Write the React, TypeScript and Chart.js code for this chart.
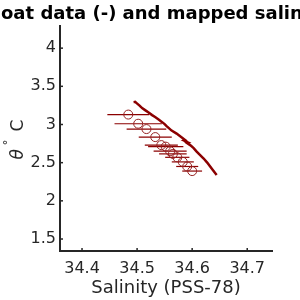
import React, { useEffect, useRef } from "react";
import { Chart, registerables } from "chart.js";
Chart.register(...registerables);

// Float profile (line)
const floatSal = [34.4936, 34.4965, 34.4991, 34.5045, 34.5091, 34.5145, 34.5209, 34.5273, 34.5327, 34.5391, 34.5455, 34.55, 34.5536, 34.5627, 34.5718, 34.58, 34.5873, 34.585, 34.5927, 34.5905, 34.5964, 34.6027, 34.6082, 34.6145, 34.6209, 34.6273, 34.6327, 34.6382, 34.6445];
const floatTheta = [3.293, 3.296, 3.28, 3.247, 3.215, 3.188, 3.156, 3.123, 3.097, 3.064, 3.031, 3.005, 2.979, 2.92, 2.881, 2.836, 2.796, 2.79, 2.763, 2.758, 2.73, 2.691, 2.645, 2.6, 2.554, 2.501, 2.449, 2.397, 2.338];

// Mapped salinity (circles) with horizontal error
const mapSal = [34.484, 34.502, 34.517, 34.533, 34.544, 34.552, 34.56, 34.565, 34.573, 34.583, 34.591, 34.6];
const mapTheta = [3.13, 3.01, 2.94, 2.835, 2.73, 2.71, 2.65, 2.615, 2.57, 2.51, 2.45, 2.39];
const mapErr = [0.038, 0.043, 0.036, 0.03, 0.03, 0.032, 0.03, 0.025, 0.022, 0.02, 0.02, 0.018];

const xTicks = [34.4, 34.5, 34.6, 34.7];
const yTicks = [1.5, 2, 2.5, 3, 3.5, 4];
const titleText = "Float data (-) and mapped salinity (o)";
const xLabel = "Salinity (PSS-78)";

const FONT = "'DejaVu Sans', sans-serif";
const AXIS = "#262626";
const RED = "#8B0000";

export default function App() {
  const ref = useRef<HTMLCanvasElement>(null);
  useEffect(() => {
    const decor = {
      id: "decor",
      beforeDatasetsDraw(chart: any) {
        const { ctx, scales } = chart;
        const xs = scales.x, ys = scales.y;
        ctx.save();
        ctx.strokeStyle = RED;
        ctx.lineWidth = 1.2;
        mapSal.forEach((s, i) => {
          const y = ys.getPixelForValue(mapTheta[i]);
          ctx.beginPath();
          ctx.moveTo(xs.getPixelForValue(s - mapErr[i]), y);
          ctx.lineTo(xs.getPixelForValue(s + mapErr[i]), y);
          ctx.stroke();
        });
        ctx.restore();
      },
      afterDraw(chart: any) {
        const { ctx, scales, chartArea } = chart;
        const xs = scales.x, ys = scales.y;
        ctx.save();
        // inward ticks
        ctx.strokeStyle = AXIS;
        ctx.lineWidth = 1.5;
        xTicks.forEach((v) => {
          const x = xs.getPixelForValue(v);
          ctx.beginPath();
          ctx.moveTo(x, chartArea.bottom);
          ctx.lineTo(x, chartArea.bottom - 3);
          ctx.stroke();
        });
        yTicks.forEach((v) => {
          const y = ys.getPixelForValue(v);
          ctx.beginPath();
          ctx.moveTo(chartArea.left, y);
          ctx.lineTo(chartArea.left + 3, y);
          ctx.stroke();
        });
        // title
        ctx.fillStyle = "#000";
        ctx.font = `bold 18px ${FONT}`;
        ctx.textAlign = "left";
        ctx.textBaseline = "alphabetic";
        const flW = ctx.measureText("Fl").width;
        ctx.fillText(titleText, 1 - flW, 19);
        // x label
        ctx.fillStyle = AXIS;
        ctx.font = `18px ${FONT}`;
        ctx.textAlign = "center";
        ctx.textBaseline = "middle";
        ctx.fillText(xLabel, (chartArea.left + chartArea.right) / 2, 288);
        // y label
        ctx.translate(23, (chartArea.top + chartArea.bottom) / 2 + 1);
        ctx.rotate(-Math.PI / 2);
        ctx.textAlign = "left";
        ctx.textBaseline = "alphabetic";
        ctx.font = `italic 17px ${FONT}`;
        ctx.fillText("θ", -20, 0);
        ctx.font = `12px ${FONT}`;
        ctx.fillText("°", -6, -11);
        ctx.font = `17px ${FONT}`;
        ctx.fillText("C", 8, 0);
        ctx.restore();
      },
    };

    const chart = new Chart(ref.current as HTMLCanvasElement, {
      type: "scatter",
      data: {
        datasets: [
          {
            type: "line",
            data: floatSal.map((x, i) => ({ x, y: floatTheta[i] })),
            borderColor: RED,
            backgroundColor: RED,
            borderWidth: 2.5,
            pointRadius: 0,
            fill: false,
            tension: 0,
          } as any,
          {
            data: mapSal.map((x, i) => ({ x, y: mapTheta[i] })),
            pointRadius: 4.5,
            pointStyle: "circle",
            borderColor: "#952222",
            backgroundColor: "rgba(0,0,0,0)",
            borderWidth: 1,
          },
        ],
      },
      options: {
        responsive: false,
        animation: false,
        devicePixelRatio: 1,
        layout: { padding: { top: 26, right: 28, left: 0, bottom: 0 } },
        plugins: {
          legend: { display: false },
          tooltip: { enabled: false },
          title: { display: false },
        },
        scales: {
          x: {
            type: "linear",
            min: 34.36,
            max: 34.745,
            afterBuildTicks: (s: any) => {
              s.ticks = xTicks.map((v) => ({ value: v }));
            },
            afterFit: (s: any) => {
              s.height = 49;
            },
            grid: { display: true, drawOnChartArea: false, drawTicks: false },
            border: { display: true, color: AXIS, width: 2 },
            ticks: {
              color: AXIS,
              font: { family: FONT, size: 16 },
              padding: 8,
              maxRotation: 0,
              autoSkip: false,
              callback: (v: any) => String(Math.round(v * 10) / 10),
            },
          },
          y: {
            type: "linear",
            min: 1.343,
            max: 4.29,
            afterBuildTicks: (s: any) => {
              s.ticks = yTicks.map((v) => ({ value: v }));
            },
            afterFit: (s: any) => {
              s.width = 60;
            },
            grid: { display: true, drawOnChartArea: false, drawTicks: false },
            border: { display: true, color: AXIS, width: 2 },
            ticks: {
              color: AXIS,
              font: { family: FONT, size: 16 },
              padding: 4,
              autoSkip: false,
              callback: (v: any) => String(Math.round(v * 10) / 10),
            },
          },
        },
      },
      plugins: [decor],
    } as any);
    return () => chart.destroy();
  }, []);

  return (
    <div style={{ position: "absolute", left: 0, top: 0, width: 300, height: 300 }}>
      <canvas ref={ref} width={300} height={300} style={{ display: "block" }} />
    </div>
  );
}
